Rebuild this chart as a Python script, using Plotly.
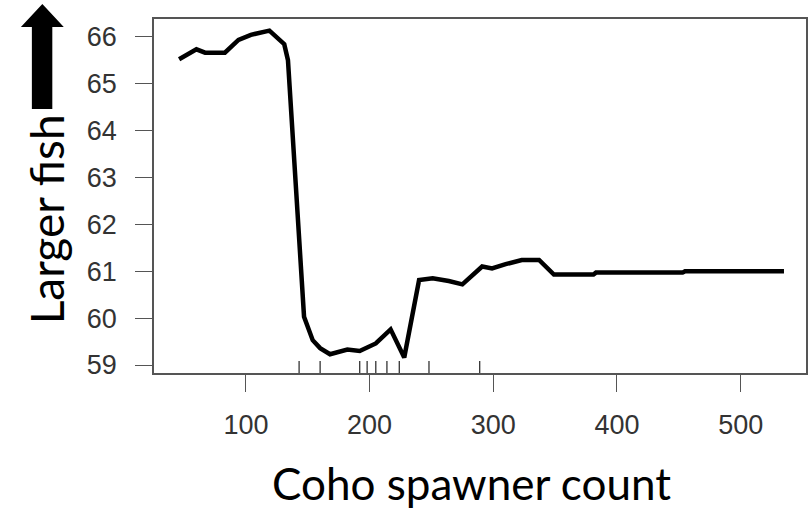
import plotly.graph_objects as go

# Partial dependence: fish size vs coho spawner count
spawners = [46, 60, 67, 83, 94, 104, 119, 131, 134, 145, 147, 154, 160, 168,
            182, 192, 205, 217, 228, 240, 251, 264, 275, 291, 299, 310, 323,
            337, 349, 381, 383, 453, 455, 535]
fish_size = [65.52, 65.73, 65.66, 65.66, 65.93, 66.04, 66.13, 65.84, 65.50,
             60.60, 60.03, 59.53, 59.36, 59.23, 59.33, 59.30, 59.46, 59.76,
             59.16, 60.81, 60.85, 60.79, 60.72, 61.10, 61.06, 61.15, 61.24,
             61.24, 60.93, 60.93, 60.97, 60.97, 61.00, 61.00]
# rug marks (deciles of spawner count)
rug_x = [143, 160, 192, 198, 205, 214, 224, 248, 289]

x_ticks = [100, 200, 300, 400, 500]
y_ticks = [59, 60, 61, 62, 63, 64, 65, 66]

x_range = [25.7, 552.8]
y_range = [58.83, 66.377]

W, H = 809, 511
L, R, T, B = 154, 1, 19, 138
pw, ph = W - L - R, H - T - B

def px(x):
    return (x - L) / pw

def py(y):
    return (H - B - y) / ph

rug_h = 12 * (y_range[1] - y_range[0]) / ph
rx, ry = [], []
for v in rug_x:
    rx += [v, v, None]
    ry += [y_range[0], y_range[0] + rug_h, None]

fig = go.Figure()
fig.add_trace(go.Scatter(x=rx, y=ry, mode="lines",
                         line=dict(color="#333", width=1.3),
                         hoverinfo="skip", showlegend=False))
fig.add_trace(go.Scatter(x=spawners, y=fish_size, mode="lines",
                         line=dict(color="black", width=4.5),
                         showlegend=False))

tickfont = dict(family="Liberation Sans, Arial", size=27, color="#333")
fig.update_xaxes(range=x_range, tickvals=x_ticks, ticks="outside", ticklen=17,
                 tickwidth=1.3, tickcolor="#555", showline=True, mirror=True,
                 linecolor="#555", linewidth=1.5, showgrid=False, zeroline=False,
                 tickfont=tickfont, ticklabelstandoff=10)
fig.update_yaxes(range=y_range, tickvals=y_ticks, ticks="outside", ticklen=17,
                 tickwidth=1.3, tickcolor="#555", showline=True, mirror=True,
                 linecolor="#555", linewidth=1.5, showgrid=False, zeroline=False,
                 tickfont=tickfont, ticklabelstandoff=13)

# Up arrow next to y label
pts = [(42, 4), (63.5, 27), (52, 27), (52, 109), (31.5, 109), (31.5, 27), (20.5, 27)]
path = "M " + " L ".join(f"{px(a):.5f},{py(b):.5f}" for a, b in pts) + " Z"
fig.add_shape(type="path", xref="paper", yref="paper", path=path,
              fillcolor="black", line=dict(color="black", width=0))

fig.add_annotation(text="Coho spawner count", xref="paper", yref="paper",
                   x=px(472), y=py(483), xanchor="center", yanchor="middle",
                   showarrow=False, font=dict(family="Lato", size=44, color="black"))
fig.add_annotation(text="Larger fish", xref="paper", yref="paper",
                   x=px(46), y=py(219), xanchor="center", yanchor="middle",
                   textangle=-90, showarrow=False,
                   font=dict(family="Lato", size=46, color="black"))

fig.update_layout(width=W, height=H, autosize=False,
                  margin=dict(l=L, r=R, t=T, b=B),
                  paper_bgcolor="white", plot_bgcolor="white")

fig.write_html("out.html")
